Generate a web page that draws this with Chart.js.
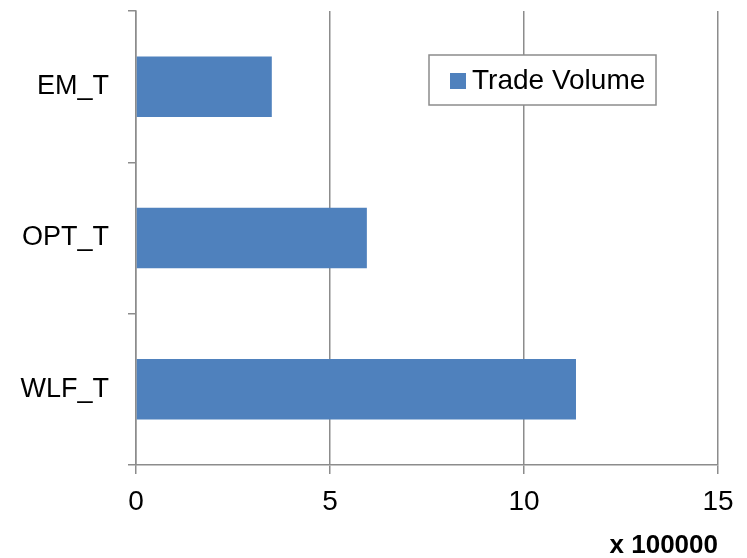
<!DOCTYPE html>
<html>
<head>
<meta charset="utf-8">
<script src="https://cdn.jsdelivr.net/npm/chart.js@4/dist/chart.umd.min.js"></script>
<style>
  html, body { margin: 0; padding: 0; background: #ffffff; }
  #wrap { width: 747px; height: 558px; }
</style>
</head>
<body>
<div id="wrap"><canvas id="c" width="747" height="558"></canvas></div>
<script>
// Trade volume per instrument
const categories = ['EM_T', 'OPT_T', 'WLF_T'];
const tradeVolume = [350000, 595000, 1134000];
const seriesName = 'Trade Volume';
const axisUnit = 100000;
const axisTitle = 'x 100000';

const FONT = "'Liberation Sans', Arial, sans-serif";
const BAR_COLOR = '#4F81BD';
const GRID_COLOR = '#8c8c8c';

// Boxed legend drawn inside the plot area, upper right
const boxedLegend = {
  id: 'boxedLegend',
  afterDraw(chart) {
    const { ctx, chartArea } = chart;
    const ds = chart.data.datasets[0];
    const w = 227, h = 50;
    const x = chartArea.right - 62 - w;
    const y = chartArea.top + 44;
    ctx.save();
    ctx.fillStyle = '#ffffff';
    ctx.fillRect(x, y, w, h);
    ctx.strokeStyle = GRID_COLOR;
    ctx.lineWidth = 1.5;
    ctx.strokeRect(x, y, w, h);
    ctx.fillStyle = ds.backgroundColor;
    ctx.fillRect(x + 21, y + 18, 16, 16);
    ctx.fillStyle = '#000000';
    ctx.font = '28px ' + FONT;
    ctx.textBaseline = 'middle';
    ctx.textAlign = 'left';
    ctx.fillText(ds.label, x + 43, y + h / 2 + 1);
    ctx.restore();
  }
};

new Chart(document.getElementById('c'), {
  type: 'bar',
  data: {
    labels: categories,
    datasets: [{
      label: seriesName,
      data: tradeVolume,
      backgroundColor: BAR_COLOR,
      borderWidth: 0,
      categoryPercentage: 1.0,
      barPercentage: 0.4
    }]
  },
  options: {
    indexAxis: 'y',
    responsive: false,
    animation: false,
    devicePixelRatio: 1,
    layout: { padding: { top: 11, right: 29, left: 0, bottom: 0 } },
    plugins: {
      legend: { display: false },
      tooltip: { enabled: false }
    },
    scales: {
      x: {
        min: 0,
        max: 1500000,
        ticks: {
          stepSize: 500000,
          color: '#000000',
          font: { family: FONT, size: 28 },
          padding: 11,
          callback: (v) => v / axisUnit
        },
        grid: {
          color: GRID_COLOR,
          lineWidth: 1.5,
          tickLength: 9,
          tickColor: GRID_COLOR
        },
        border: { color: GRID_COLOR, width: 1.5 },
        title: {
          display: true,
          text: axisTitle,
          align: 'end',
          color: '#000000',
          font: { family: FONT, size: 26, weight: 'bold' },
          padding: { top: 4, bottom: -3 }
        },
        afterFit(scale) {
          scale.height = 93;
          scale.paddingLeft = 0;
          scale.paddingRight = 0;
        }
      },
      y: {
        ticks: {
          color: '#000000',
          font: { family: FONT, size: 27 },
          padding: 19
        },
        grid: {
          offset: true,
          drawOnChartArea: false,
          color: GRID_COLOR,
          lineWidth: 1.5,
          tickLength: 8
        },
        border: { color: GRID_COLOR, width: 1.5 },
        afterFit(scale) {
          scale.width = 136;
          scale.paddingTop = 0;
          scale.paddingBottom = 0;
        }
      }
    }
  },
  plugins: [boxedLegend]
});
</script>
</body>
</html>
